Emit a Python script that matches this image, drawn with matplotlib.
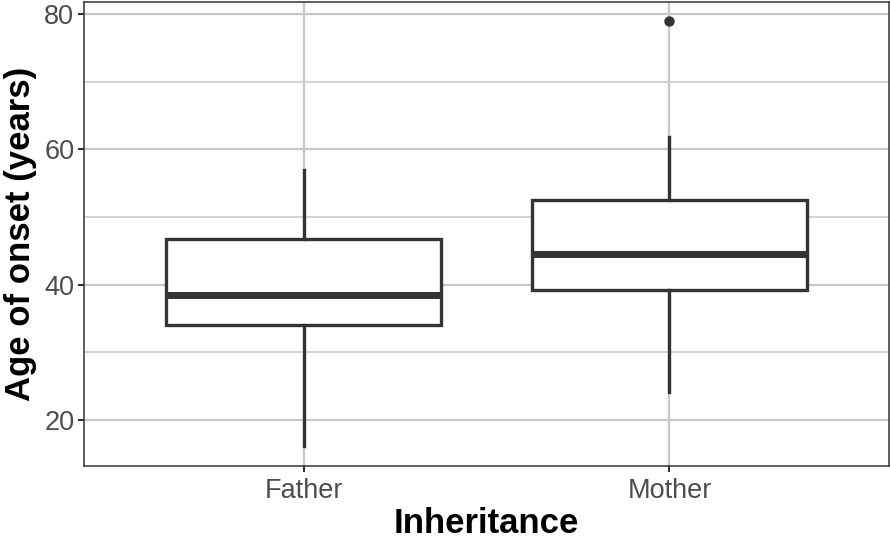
import matplotlib
matplotlib.use("Agg")
import matplotlib.pyplot as plt
from matplotlib.ticker import MultipleLocator

plt.rcParams["font.family"] = ["Liberation Sans", "DejaVu Sans"]

# summary statistics
groups = ["Father", "Mother"]
q1 = [34.1, 39.2]
medians = [38.5, 44.5]
q3 = [46.7, 52.5]
whisker_low = [16.2, 24.1]
whisker_high = [56.9, 61.9]
outliers = [[], [79.0]]

stats = []
for i, name in enumerate(groups):
    stats.append(dict(label=name, q1=q1[i], med=medians[i], q3=q3[i],
                      whislo=whisker_low[i], whishi=whisker_high[i],
                      fliers=outliers[i]))

fig = plt.figure(figsize=(8.9, 5.39), dpi=100)
ax = fig.add_axes([84 / 890, 73 / 539, 805 / 890, 464 / 539])

dark = "#333333"
ax.bxp(stats, positions=[1, 2], widths=0.75, showcaps=False, patch_artist=True,
       boxprops=dict(facecolor="white", edgecolor=dark, linewidth=2.4),
       medianprops=dict(color=dark, linewidth=5.0, solid_capstyle="butt"),
       whiskerprops=dict(color=dark, linewidth=2.4),
       flierprops=dict(marker="o", markerfacecolor=dark, markeredgecolor=dark,
                       markersize=6.5))

ax.set_xlim(0.4, 2.6)
ax.set_ylim(13.2, 81.8)
ax.yaxis.set_major_locator(MultipleLocator(20))
ax.yaxis.set_minor_locator(MultipleLocator(10))
ax.grid(True, which="major", color="#c8c8c8", linewidth=1.6)
ax.grid(True, which="minor", axis="y", color="#c8c8c8", linewidth=1.1)
ax.set_axisbelow(True)
ax.tick_params(which="minor", length=0)
ax.tick_params(which="major", length=4, width=1.5, color=dark,
               labelsize=19.5, labelcolor="#4d4d4d", pad=3)
ax.tick_params(axis="x", pad=5)

for sp in ax.spines.values():
    sp.set_color(dark)
    sp.set_linewidth(1.1)

ax.set_xlabel("Inheritance", fontsize=25, fontweight="bold", labelpad=2)
ax.set_ylabel("Age of onset (years)", fontsize=25, fontweight="bold", labelpad=5)

fig.savefig("out.png", dpi=100)
